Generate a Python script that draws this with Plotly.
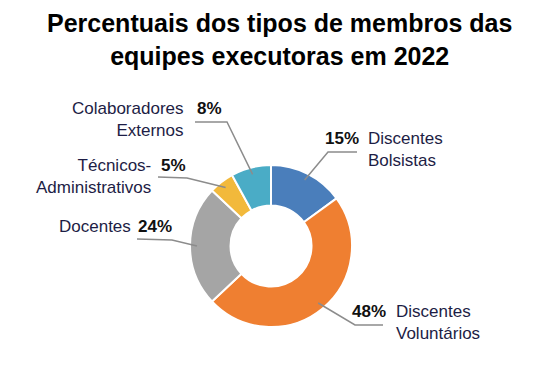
import math
import plotly.graph_objects as go

# ---- data ----
categories = ["Discentes Bolsistas", "Discentes Voluntários", "Docentes",
              "Técnicos-Administrativos", "Colaboradores Externos"]
values = [15, 48, 24, 5, 8]
name_text = ["Discentes<br>Bolsistas", "Discentes<br>Voluntários", "Docentes",
             "Técnicos-<br>Administrativos", "Colaboradores<br>Externos"]
colors = ["#4a7ebb", "#ef7f31", "#a5a5a5", "#f2b93b", "#4aacc6"]

# ---- layout constants (screen pixels) ----
W, H = 558, 379
OFF = 8  # page body margin offset
CX, CY, R = 271, 246, 81
RL = 74  # radius where leader lines start

label_layout = [
    dict(side="right", pts=[(328, 152), (357, 152)], pct=(361, 138), name=(366, 149)),
    dict(side="right", pts=[(355, 325), (383, 325)], pct=(388, 311), name=(394, 322)),
    dict(side="left", pts=[(172, 240), (137, 239)], pct=(136, 226), name=(133, 226)),
    dict(side="left", pts=[(187, 178), (158, 177)], pct=(159, 165), name=(153, 176)),
    dict(side="left", pts=[(227, 122), (195, 122)], pct=(195, 108), name=(186, 119)),
]

name_font = dict(family="Liberation Sans, Arial, sans-serif", size=17, color="#1d1d45")
pct_font = dict(family="Liberation Sans, Arial, sans-serif", size=17, color="#111111")

fcx, fcy = CX - OFF, CY - OFF
fig = go.Figure()
fig.add_trace(go.Pie(
    labels=categories, values=values, hole=0.5, sort=False,
    direction="clockwise", rotation=0,
    marker=dict(colors=colors, line=dict(color="white", width=2)),
    textinfo="none", hoverinfo="label+percent", showlegend=False,
    domain=dict(x=[(fcx - R) / W, (fcx + R) / W], y=[(H - fcy - R) / H, (H - fcy + R) / H]),
))

total = sum(values)
cum = 0
shapes = []
annotations = []
for v, nm, lay in zip(values, name_text, label_layout):
    ang = math.radians((cum + v / 2) / total * 360)
    cum += v
    sx, sy = CX + RL * math.sin(ang), CY - RL * math.cos(ang)
    pts = [(sx, sy)] + lay["pts"]
    path = "M " + " L ".join(f"{x:.1f},{y:.1f}" for x, y in pts)
    shapes.append(dict(type="path", path=path, xref="x", yref="y",
                       line=dict(color="#8c8c8c", width=1.5)))
    pct = f"<b>{round(v / total * 100)}%</b>"
    if lay["side"] == "right":
        annotations.append(dict(x=lay["pct"][0], y=lay["pct"][1], text=pct, xanchor="right",
                                yanchor="middle", showarrow=False, font=pct_font, xref="x", yref="y"))
        annotations.append(dict(x=lay["name"][0], y=lay["name"][1], text=nm, xanchor="left",
                                yanchor="middle", align="left", showarrow=False, font=name_font,
                                xref="x", yref="y"))
    else:
        annotations.append(dict(x=lay["pct"][0], y=lay["pct"][1], text=pct, xanchor="left",
                                yanchor="middle", showarrow=False, font=pct_font, xref="x", yref="y"))
        annotations.append(dict(x=lay["name"][0], y=lay["name"][1], text=nm, xanchor="right",
                                yanchor="middle", align="right", showarrow=False, font=name_font,
                                xref="x", yref="y"))

annotations.append(dict(x=279, y=39, xref="x", yref="y", showarrow=False,
                        text="<b>Percentuais dos tipos de membros das<br>equipes executoras em 2022</b>",
                        font=dict(family="Liberation Sans, Arial, sans-serif", size=25, color="black"),
                        xanchor="center", yanchor="middle", align="center"))

fig.update_layout(
    width=W, height=H, margin=dict(l=0, r=0, t=0, b=0),
    paper_bgcolor="white", plot_bgcolor="rgba(0,0,0,0)",
    xaxis=dict(range=[OFF, W + OFF], visible=False, fixedrange=True),
    yaxis=dict(range=[H + OFF, OFF], visible=False, fixedrange=True),
    shapes=shapes, annotations=annotations,
)
fig.write_html("out.html")
